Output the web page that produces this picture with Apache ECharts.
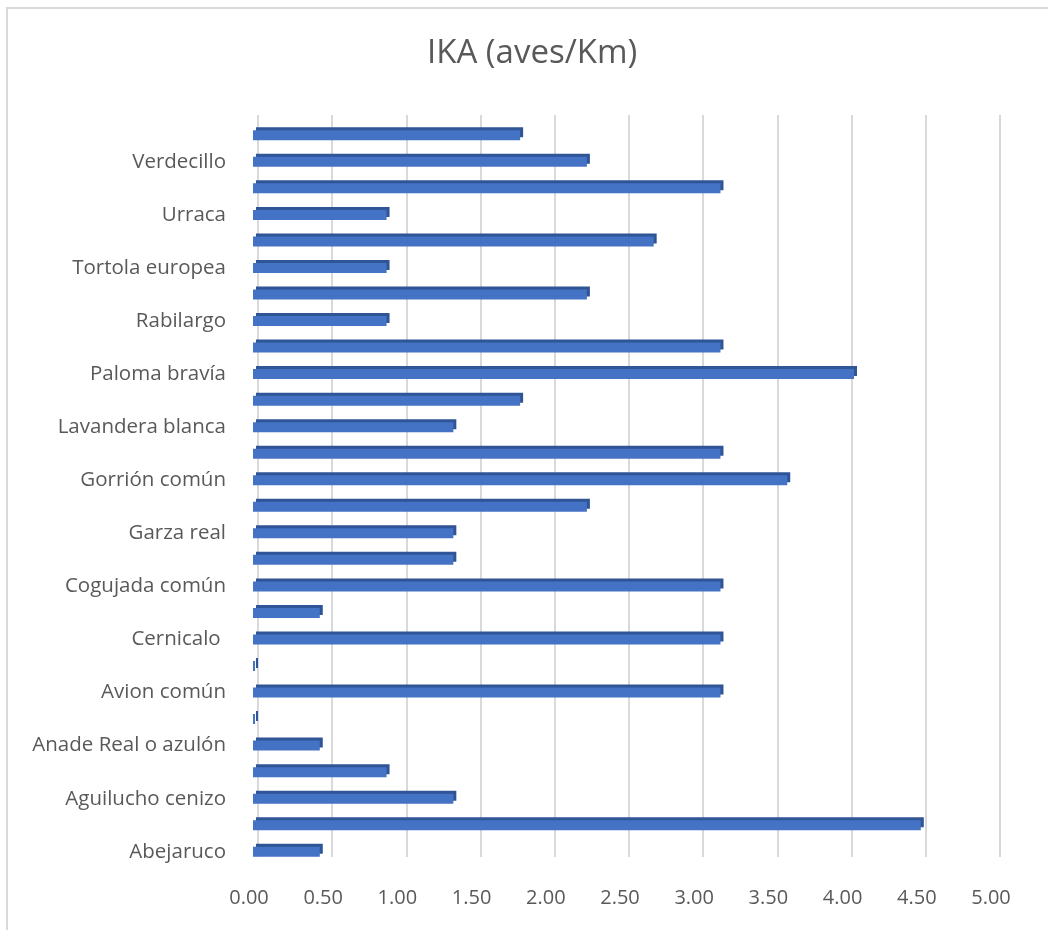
<!DOCTYPE html>
<html>
<head>
<meta charset="utf-8">
<script src="https://cdn.jsdelivr.net/npm/echarts@6/dist/echarts.min.js"></script>
<style>
  html, body { margin: 0; padding: 0; background: #ffffff; }
  #chart { width: 1048px; height: 930px; }
</style>
</head>
<body>
<div id="chart"></div>
<script>
// Categories from bottom to top ('' = category whose label is not shown in the original)
const categories = [
  'Abejaruco', '', 'Aguilucho cenizo', '', 'Anade Real o azulón', '',
  'Avion común', '', 'Cernicalo ', '', 'Cogujada común', '',
  'Garza real', '', 'Gorrión común', '', 'Lavandera blanca', '',
  'Paloma bravía', '', 'Rabilargo', '', 'Tortola europea', '',
  'Urraca', '', 'Verdecillo', ''
];
// IKA values (aves/Km), same order as categories
const values = [
  0.45, 4.50, 1.35, 0.90, 0.45, 0,
  3.15, 0, 3.15, 0.45, 3.15, 1.35,
  1.35, 2.25, 3.60, 3.15, 1.35, 1.80,
  4.05, 3.15, 0.90, 2.25, 0.90, 2.70,
  0.90, 3.15, 2.25, 1.80
];
const xTicks = [0, 0.5, 1, 1.5, 2, 2.5, 3, 3.5, 4, 4.5, 5];
const titleText = 'IKA (aves/Km)';

const textColor = '#595959';
const fontFam = '"Open Sans", "Noto Sans", sans-serif';

const chart = echarts.init(document.getElementById('chart'), null, { renderer: 'canvas' });
chart.setOption({
  backgroundColor: '#ffffff',
  animation: false,
  title: {
    text: titleText,
    left: 427,
    top: 37,
    padding: 0,
    textStyle: { fontFamily: fontFam, fontSize: 33, fontWeight: 'normal', color: textColor }
  },
  graphic: [{
    type: 'rect',
    shape: { x: 7, y: 8, width: 1100, height: 1000 },
    style: { fill: 'none', stroke: '#d9d9d9', lineWidth: 2 },
    silent: true
  }],
  grid: [
    { left: 258, right: 48, top: 115, bottom: 73 },   // back plane: gridlines + tick labels
    { left: 253, right: 53, top: 122, bottom: 65 }    // bars
  ],
  xAxis: [{
    gridIndex: 0,
    type: 'value',
    min: xTicks[0],
    max: xTicks[xTicks.length - 1],
    interval: 0.5,
    axisLine: { show: false },
    axisTick: { show: false },
    splitLine: { show: true, lineStyle: { color: '#d9d9d9', width: 2 } },
    axisLabel: {
      margin: 31,
      padding: [0, 18, 0, 0],
      color: textColor,
      fontFamily: fontFam,
      fontSize: 20,
      formatter: v => v.toFixed(2)
    }
  }, {
    gridIndex: 1,
    type: 'value',
    min: xTicks[0],
    max: xTicks[xTicks.length - 1],
    interval: 0.5,
    show: false,
    splitLine: { show: false }
  }],
  yAxis: [{
    gridIndex: 0,
    type: 'category',
    data: categories,
    show: false
  }, {
    gridIndex: 1,
    type: 'category',
    data: categories,
    axisLine: { show: false },
    axisTick: { show: false },
    splitLine: { show: false },
    axisLabel: {
      interval: 0,
      margin: 27,
      padding: [8, 0, 0, 0],
      color: textColor,
      fontFamily: fontFam,
      fontSize: 20.5
    }
  }],
  series: [{
    type: 'bar',
    xAxisIndex: 1,
    yAxisIndex: 1,
    data: values,
    barWidth: 10,
    barMinHeight: 2,
    itemStyle: {
      color: '#4472C4',
      shadowColor: '#2F5597',
      shadowBlur: 0,
      shadowOffsetX: 3,
      shadowOffsetY: -3
    }
  }]
});
</script>
</body>
</html>
